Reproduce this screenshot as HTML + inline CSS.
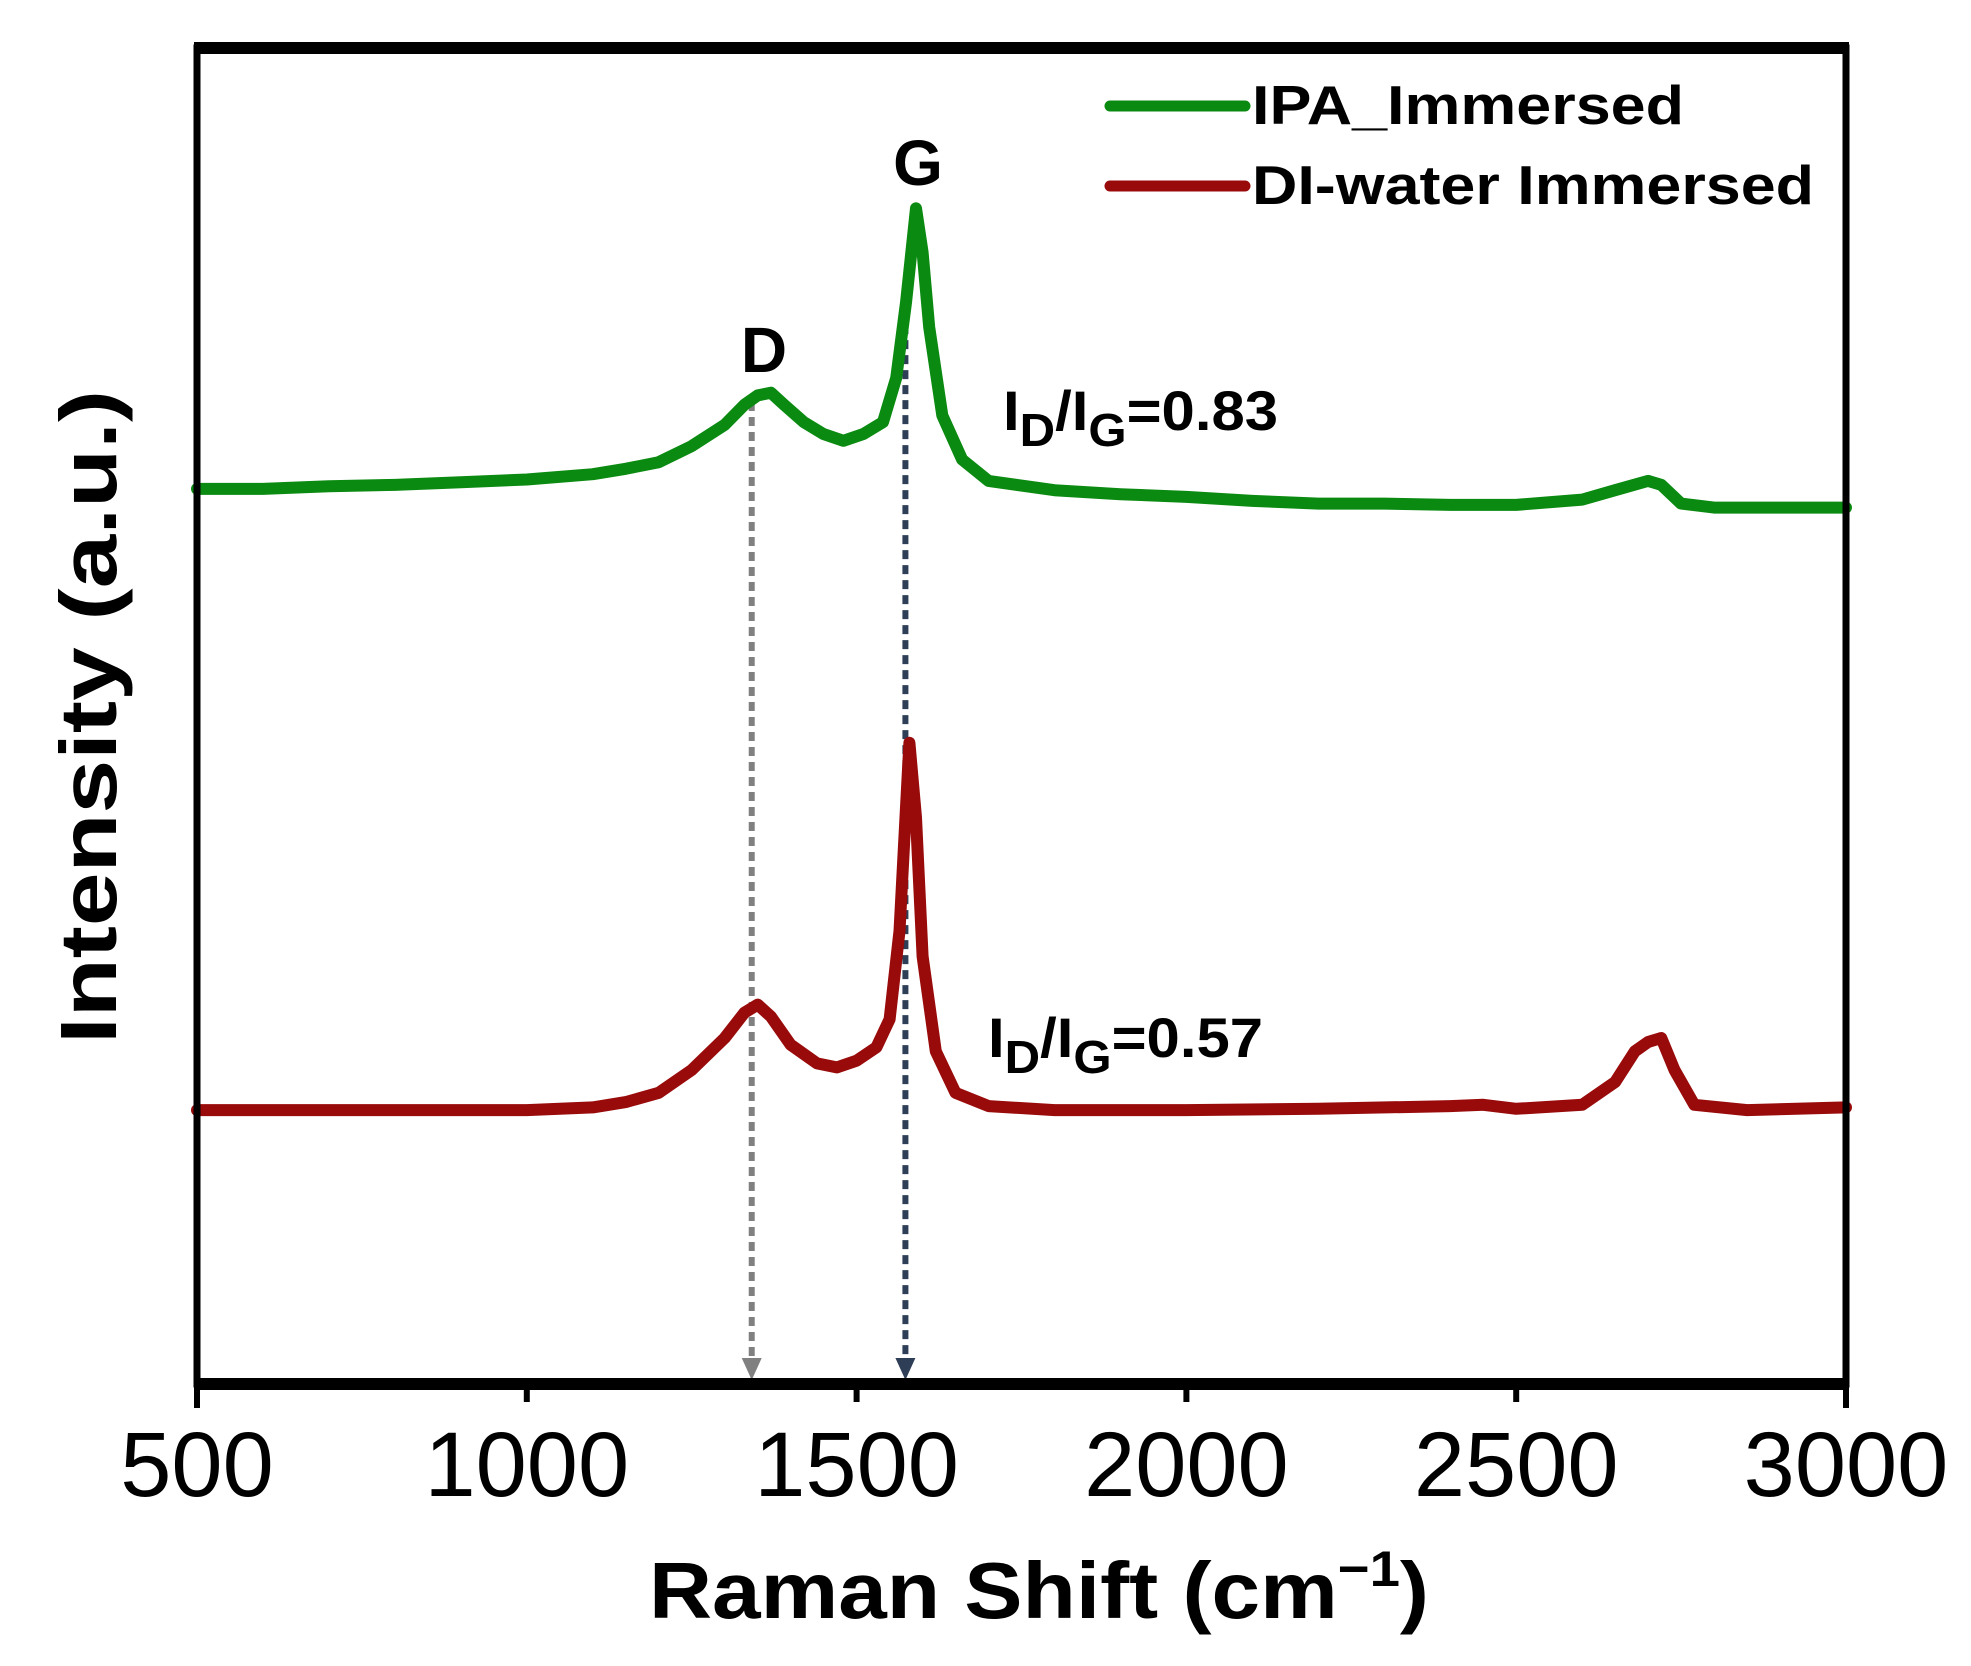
<!DOCTYPE html>
<html><head><meta charset="utf-8"><style>
html,body{margin:0;padding:0;background:#fff;}
svg{display:block;}
text{font-family:"Liberation Sans",Arial,sans-serif;}
</style></head><body>
<svg id="chart" width="1971" height="1666" viewBox="0 0 1971 1666" xmlns="http://www.w3.org/2000/svg">
<rect width="1971" height="1666" fill="#fff"/>
<g id="series"></g>
<g id="axes"></g>
<g>
 <line x1="1110" y1="106" x2="1245" y2="106" stroke="#0a8a10" stroke-width="11" stroke-linecap="round"/>
 <text x="1252" y="124" font-size="55" font-weight="bold" textLength="432" lengthAdjust="spacingAndGlyphs">IPA_Immersed</text>
 <line x1="1110" y1="186" x2="1245" y2="186" stroke="#990a0a" stroke-width="11" stroke-linecap="round"/>
 <text x="1252" y="204" font-size="55" font-weight="bold" textLength="562" lengthAdjust="spacingAndGlyphs">DI-water Immersed</text>
</g>
<text x="918" y="185" font-size="64" font-weight="bold" text-anchor="middle">G</text>
<text x="764" y="372" font-size="64" font-weight="bold" text-anchor="middle">D</text>
<text x="1003" y="430" font-size="56" font-weight="bold" textLength="275" lengthAdjust="spacingAndGlyphs">I<tspan font-size="46" dy="16">D</tspan><tspan dy="-16">/I</tspan><tspan font-size="46" dy="16">G</tspan><tspan dy="-16">=0.83</tspan></text>
<text x="988" y="1057" font-size="56" font-weight="bold" textLength="275" lengthAdjust="spacingAndGlyphs">I<tspan font-size="46" dy="16">D</tspan><tspan dy="-16">/I</tspan><tspan font-size="46" dy="16">G</tspan><tspan dy="-16">=0.57</tspan></text>
<text x="1039" y="1618" font-size="80" font-weight="bold" text-anchor="middle" textLength="780" lengthAdjust="spacingAndGlyphs">Raman Shift (cm<tspan font-size="50" dy="-32">−1</tspan><tspan dy="32">)</tspan></text>
<text transform="translate(116,717) rotate(-90)" font-size="80" font-weight="bold" text-anchor="middle" textLength="654" lengthAdjust="spacingAndGlyphs">Intensity (a.u.)</text>
</svg>
<script>
const xTicks = [500, 1000, 1500, 2000, 2500, 3000];
const ipaX = [500,600,700,800,900,1000,1100,1150,1200,1250,1300,1330,1350,1370,1390,1420,1450,1480,1510,1540,1560,1575,1590,1600,1610,1630,1660,1700,1800,1900,2000,2100,2200,2300,2400,2500,2600,2650,2700,2720,2750,2800,3000];
const ipaY = [67.0,67.0,67.2,67.3,67.5,67.7,68.1,68.5,69.0,70.2,71.8,73.3,74.0,74.2,73.3,72.0,71.1,70.6,71.1,72.0,75.3,81.0,88.0,84.7,79.1,72.5,69.2,67.6,66.9,66.6,66.4,66.1,65.9,65.9,65.8,65.8,66.2,66.9,67.6,67.3,65.9,65.6,65.6];
const diX = [500,700,1000,1100,1150,1200,1250,1300,1330,1350,1370,1400,1440,1470,1500,1530,1550,1565,1580,1590,1600,1620,1650,1700,1800,2000,2200,2400,2450,2500,2600,2650,2680,2700,2720,2740,2770,2850,3000];
const diY = [20.5,20.5,20.5,20.7,21.1,21.8,23.5,25.9,27.8,28.4,27.5,25.4,24.0,23.7,24.2,25.2,27.3,33.9,48.0,42.4,32.0,24.9,21.8,20.8,20.5,20.5,20.6,20.8,20.9,20.6,20.9,22.6,24.9,25.6,25.9,23.5,20.9,20.5,20.7];
const dPeak = [1341, 73.5];
const gPeak = [1574, 81.5];

const L=197, R=1846, T=48, B=1384;
const xs = v => L + (v-500)/(3000-500)*(R-L);
const ys = v => B - v/100*(B-T);
const NS='http://www.w3.org/2000/svg';
const series=document.getElementById('series');
const axes=document.getElementById('axes');
function mk(tag, attrs, parent){const e=document.createElementNS(NS,tag);for(const k in attrs)e.setAttribute(k,attrs[k]);parent.appendChild(e);return e;}

[[dPeak,'#808080','d-peak-guide'],[gPeak,'#2e3e56','g-peak-guide']].forEach(([p,c,n])=>{
  const ln=mk('line',{x1:xs(p[0]),y1:ys(p[1]),x2:xs(p[0]),y2:B-22,stroke:c,'stroke-width':6,'stroke-dasharray':'9 6'},series);
  
  
  const x=xs(p[0]);
  const ah=mk('polygon',{points:`${x-10},${B-26} ${x+10},${B-26} ${x},${B-4}`,fill:c},series);
  
  
});

function drawLine(X,Y,color,name){
  const d=X.map((x,i)=>(i?'L':'M')+xs(x).toFixed(1)+','+ys(Y[i]).toFixed(1)).join(' ');
  const p=mk('path',{d:d,fill:'none',stroke:color,'stroke-width':12,'stroke-linejoin':'round','stroke-linecap':'round'},series);
  
  
}
drawLine(diX,diY,'#990a0a','series-diwater');
drawLine(ipaX,ipaY,'#0a8a10','series-ipa');

const fr=mk('rect',{x:L,y:T,width:R-L,height:B-T,fill:'none',stroke:'#000','stroke-width':7},axes);


const tt=mk('line',{x1:L-3,y1:T,x2:R+3,y2:T,stroke:'#000','stroke-width':12},axes);


const xa=mk('line',{x1:L-3,y1:B,x2:R+3,y2:B,stroke:'#000','stroke-width':12},axes);


xTicks.forEach(v=>{
  const t=mk('line',{x1:xs(v),y1:B,x2:xs(v),y2:B+(v===500||v===3000?24:18),stroke:'#000','stroke-width':6},axes);
  
  
  const lb=mk('text',{x:xs(v),y:1496,'font-size':92,'text-anchor':'middle'},axes);
  lb.textContent=v;
  
  
});
</script>
</body></html>
